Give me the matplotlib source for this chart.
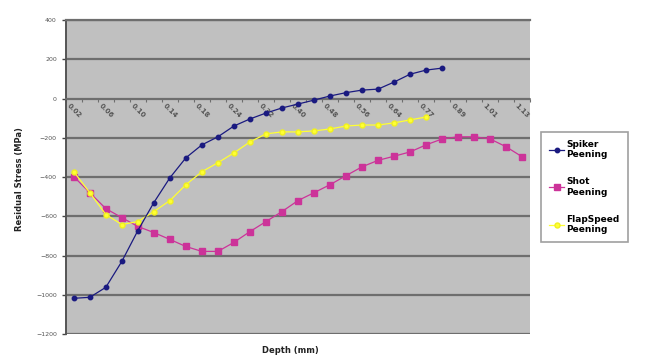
import numpy as np
import matplotlib.pyplot as plt

# categories (depth, mm)
depth = ['0.02', '0.04', '0.06', '0.08', '0.10', '0.12', '0.14', '0.16', '0.18', '0.20',
         '0.24', '0.28', '0.32', '0.36', '0.40', '0.44', '0.48', '0.52', '0.56', '0.60',
         '0.64', '0.71', '0.77', '0.83', '0.89', '0.95', '1.01', '1.07', '1.13']

spiker = [-1018, -1013, -962, -830, -673, -530, -404, -302, -236, -195,
          -140, -104, -74, -48, -28, -8, 13, 30, 43, 48,
          84, 124, 145, 155]
shot = [-398, -480, -561, -607, -652, -683, -718, -754, -779, -779,
        -733, -678, -627, -576, -520, -480, -439, -393, -348, -315,
        -294, -272, -236, -206, -195, -195, -206, -246, -297]
flap = [-373, -480, -591, -642, -627, -576, -520, -439, -373, -327,
        -277, -221, -180, -170, -170, -165, -155, -140, -135, -135,
        -124, -109, -94]

fig = plt.figure(figsize=(6.45, 3.58), dpi=100)
ax = fig.add_axes([0.102, 0.067, 0.72, 0.877])
ax.set_facecolor('#c0c0c0')

ax.plot(np.arange(len(spiker)), spiker, '-o', color='#1a1a80', lw=0.9, ms=3.2, label='Spiker\nPeening', zorder=4)
ax.plot(np.arange(len(shot)), shot, '-s', color='#cc3399', lw=0.9, ms=3.8, label='Shot\nPeening', zorder=3)
ax.plot(np.arange(len(flap)), flap, '-o', color='#ffff33', mec='#f0f020', lw=0.9, ms=3.6, label='FlapSpeed\nPeening', zorder=3)

ax.set_xlim(-0.5, len(depth) - 0.5)
ax.set_ylim(-1200, 400)
ax.set_yticks(np.arange(-1200, 401, 200))
ax.tick_params(axis='y', labelsize=4.5, labelcolor='#555555', length=3, width=1, color='#444444')
ax.yaxis.grid(True, color='#6e6e6e', lw=1.6)
ax.set_axisbelow(True)

# category axis crossing at 0
ax.spines['bottom'].set_position(('data', 0))
ax.spines['bottom'].set_color('#6e6e6e')
ax.spines['bottom'].set_linewidth(1.2)
ax.spines['top'].set_color('#6e6e6e')
ax.spines['top'].set_linewidth(1.6)
ax.spines['right'].set_visible(False)
ax.spines['left'].set_color('#555555')
ax.spines['left'].set_linewidth(1.4)

ax.set_xticks(np.arange(0, len(depth), 2))
ax.set_xticklabels(depth[::2], rotation=-45, ha='center', va='top', fontweight='bold')
ax.set_xticks(np.arange(-0.5, len(depth), 1), minor=True)
ax.tick_params(axis='x', which='major', length=0, labelsize=5, labelcolor='#555555', pad=3)
ax.tick_params(axis='x', which='minor', length=2, width=0.8, color='#6e6e6e')

fig.text(0.03, 0.5, 'Residual Stress (MPa)', rotation=90, fontsize=6, fontweight='bold',
         ha='center', va='center', color='#222222')
fig.text(0.45, 0.022, 'Depth (mm)', fontsize=6, fontweight='bold', ha='center', va='center', color='#222222')

leg = fig.legend(loc='upper left', bbox_to_anchor=(0.832, 0.645),
                 prop={'weight': 'bold', 'size': 6.5}, labelspacing=2.0, handlelength=1.6,
                 frameon=True, fancybox=False, borderpad=0.9, handletextpad=0.3)
leg.get_frame().set_edgecolor('#888888')
leg.get_frame().set_linewidth(1.2)

fig.savefig('out.png', dpi=100)
